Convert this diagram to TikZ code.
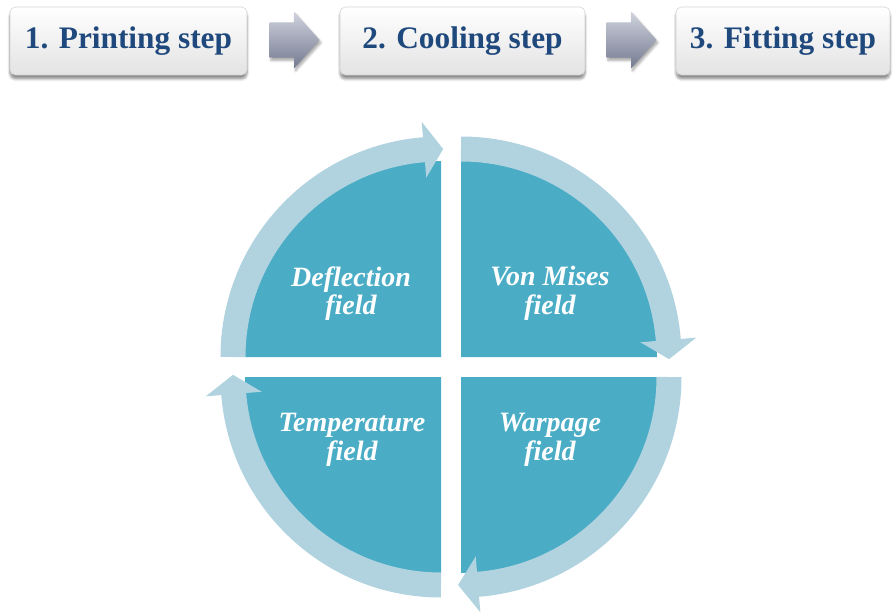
\documentclass[tikz,border=0pt]{standalone}
\usepackage{fontspec}
\setmainfont{Liberation Serif}[BoldFont={* Bold}, ItalicFont={* Italic}, BoldItalicFont={* Bold Italic}]
\usetikzlibrary{shapes.arrows,shadows.blur}
\definecolor{sector}{RGB}{75,172,198}
\definecolor{ring}{RGB}{176,211,223}
\definecolor{stepblue}{RGB}{31,73,125}
\definecolor{arrowtop}{RGB}{208,211,222}
\definecolor{arrowbot}{RGB}{116,122,144}

\tikzset{
  stepbox/.style={rounded corners=4pt, draw=gray!35, top color=white, bottom color=gray!22,
    minimum height=51pt, inner sep=0pt, text=stepblue,
    font=\fontsize{23.5}{26}\selectfont\bfseries,
    blur shadow={shadow xshift=0pt, shadow yshift=-3pt, shadow blur steps=6, shadow opacity=45}},
  steparrow/.style={single arrow, single arrow head extend=7.9pt, single arrow tip angle=96,
    minimum height=37.5pt, inner xsep=0pt, inner ysep=13.1pt, anchor=tip,
    top color=arrowtop, bottom color=arrowbot,
    blur shadow={shadow xshift=1pt, shadow yshift=-2pt, shadow blur steps=5, shadow opacity=35}},
  field/.style={text=white, align=center, font=\fontsize{21}{21.5}\selectfont\bfseries\itshape},
  band/.style={draw=ring, line width=18.75pt}
}

\begin{document}
\begin{tikzpicture}[x=0.75pt, y=0.75pt]
  \useasboundingbox (0,0) rectangle (893,612);
  % steps
  \node[stepbox, minimum width=177.75pt] (printing) at (128.5,571) {1. Printing step};
  \node[stepbox, minimum width=183.75pt] (cooling) at (462.5,571) {2. Cooling step};
  \node[stepbox, minimum width=160.5pt] (fitting) at (783,571) {3. Fitting step};
  \node[steparrow] (arr1) at (320,572) {};
  \node[steparrow] (arr2) at (657,572) {};

  % quarters
  \fill[sector] (441,255) -- ++(180:196) arc[start angle=180, end angle=90, radius=196] -- cycle;
  \fill[sector] (461,255) -- ++(90:196) arc[start angle=90, end angle=0, radius=196] -- cycle;
  \fill[sector] (461,235) -- ++(0:196) arc[start angle=0, end angle=-90, radius=196] -- cycle;
  \fill[sector] (441,235) -- ++(270:196) arc[start angle=270, end angle=180, radius=196] -- cycle;

  % circular arrows
  \draw[band] (441,255) ++(180:208) arc[start angle=180, end angle=94, radius=208];
  \fill[ring] ([shift={(441,255)}]94.7:180) -- ([shift={(441,255)}]94.7:236) -- ([shift={(441,255)}]89.4:208) -- cycle;
  \draw[band] (461,255) ++(90:208) arc[start angle=90, end angle=4, radius=208];
  \fill[ring] ([shift={(461,255)}]4.7:180) -- ([shift={(461,255)}]4.7:236) -- ([shift={(461,255)}]-0.6:208) -- cycle;
  \draw[band] (461,235) ++(0:208) arc[start angle=0, end angle=-86, radius=208];
  \fill[ring] ([shift={(461,235)}]-85.3:180) -- ([shift={(461,235)}]-85.3:236) -- ([shift={(461,235)}]-90.8:208) -- cycle;
  \draw[band] (441,235) ++(270:208) arc[start angle=270, end angle=184, radius=208];
  \fill[ring] ([shift={(441,235)}]184.7:180) -- ([shift={(441,235)}]184.7:236) -- ([shift={(441,235)}]179.4:208) -- cycle;

  \node[field] (deflection) at (351,318.5) {Deflection\\field};
  \node[field] (vonmises) at (550,318.5) {Von Mises\\field};
  \node[field] (temperature) at (352,172.5) {Temperature\\field};
  \node[field] (warpage) at (550,172.5) {Warpage\\field};
\end{tikzpicture}
\end{document}
